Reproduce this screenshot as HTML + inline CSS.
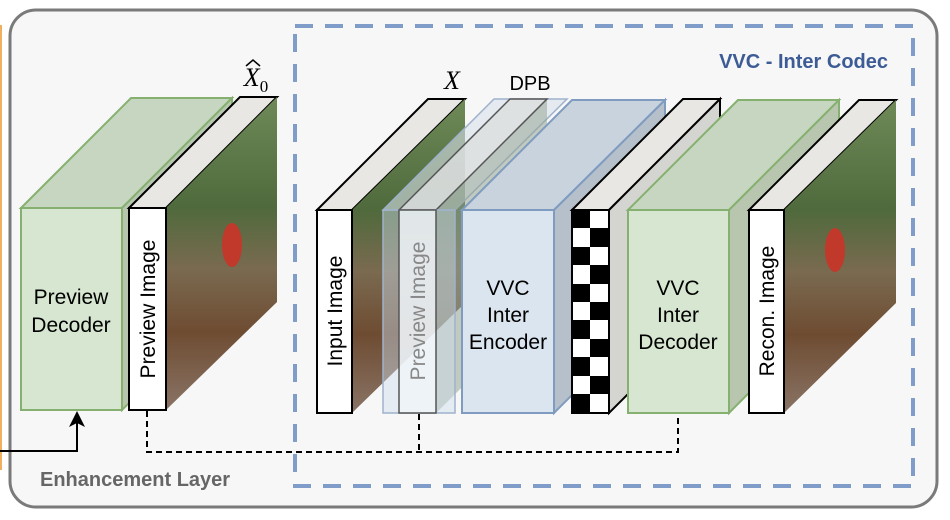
<!DOCTYPE html>
<html><head><meta charset="utf-8"><style>
html,body{margin:0;padding:0;background:#fff;}
svg{display:block;font-family:"Liberation Sans",sans-serif;}
</style></head><body>
<svg width="950" height="520" viewBox="0 0 950 520" xmlns="http://www.w3.org/2000/svg">
<defs>
<linearGradient id="ph" x1="0" y1="0" x2="0" y2="1">
<stop offset="0" stop-color="#6f8a58"/><stop offset="0.35" stop-color="#4f6a3c"/>
<stop offset="0.55" stop-color="#7a6a50"/><stop offset="0.75" stop-color="#6e4c32"/>
<stop offset="1" stop-color="#8a7466"/></linearGradient>
</defs>
<line x1="1" y1="25" x2="1" y2="470" stroke="#f0b060" stroke-width="2"/>
<rect x="10" y="10" width="927" height="497" rx="26" fill="#f7f7f7" stroke="#7a7a7a" stroke-width="3"/>
<rect x="295" y="26" width="618" height="460" fill="none" stroke="#7f9dc8" stroke-width="4" stroke-dasharray="18,12"/>
<text x="888" y="68" text-anchor="end" font-size="20" font-weight="bold" fill="#3d5c96">VVC - Inter Codec</text>
<text x="40" y="486" font-size="20" font-weight="bold" fill="#666">Enhancement Layer</text>

<!-- Preview decoder -->
<polygon points="21,208 131,98 232,98 122,208" fill="#c6d6c0" stroke="#86b070" stroke-width="2"/>
<polygon points="122,208 232,98 232,300 122,410" fill="#b8c6b0" stroke="#86b070" stroke-width="2"/>
<rect x="21" y="208" width="101" height="202" fill="#d6e6d0" stroke="#86b070" stroke-width="2"/>
<text x="71" y="304" text-anchor="middle" font-size="21">Preview</text>
<text x="71" y="332" text-anchor="middle" font-size="21">Decoder</text>

<!-- Preview image slab -->
<polygon points="129,208 240,97 277,97 166,208" fill="#e8e7e4" stroke="#000" stroke-width="2"/>
<polygon points="166,208 277,97 277,302 166,410" fill="url(#ph)"/>
<ellipse cx="232" cy="245" rx="10" ry="22" fill="#c0392b"/>
<rect x="129" y="208" width="37" height="202" fill="#fff" stroke="#000" stroke-width="2"/>
<text transform="translate(155,309) rotate(-90)" text-anchor="middle" font-size="21">Preview Image</text>
<text x="256" y="86" text-anchor="middle" font-size="26" font-style="italic" font-family="Liberation Serif,serif">X<tspan font-size="17" font-style="normal" dy="6">0</tspan></text>
<path d="M246,66 L253,60 L260,66" fill="none" stroke="#000" stroke-width="1.5"/>

<!-- Input image -->
<polygon points="317,210 428,99 465,99 352,210" fill="#e8e7e4" stroke="#000" stroke-width="2"/>
<polygon points="352,210 465,99 465,303 352,413" fill="url(#ph)"/>
<rect x="317" y="210" width="35" height="203" fill="#fff" stroke="#000" stroke-width="2"/>
<text transform="translate(342,311) rotate(-90)" text-anchor="middle" font-size="21">Input Image</text>
<text x="452" y="89" text-anchor="middle" font-size="26" font-style="italic" font-family="Liberation Serif,serif">X</text>
<text x="530" y="90" text-anchor="middle" font-size="20">DPB</text>

<!-- DPB translucent -->
<polygon points="383,210 494,99 567,99 455,210" fill="rgba(215,225,235,0.6)" stroke="#9fb2cc" stroke-width="1.5"/>
<polygon points="436,210 547,99 547,303 436,413" fill="rgba(150,165,150,0.55)"/>
<polygon points="399,210 510,99 547,99 436,210" fill="rgba(220,222,222,0.8)" stroke="#555" stroke-width="1.5"/>
<rect x="383" y="210" width="72" height="203" fill="rgba(205,220,235,0.45)" stroke="#9fb2cc" stroke-width="1.5"/>
<rect x="399" y="210" width="37" height="203" fill="rgba(240,244,248,0.85)" stroke="#555" stroke-width="1.5"/>
<text transform="translate(425,311) rotate(-90)" text-anchor="middle" font-size="21" fill="#888">Preview Image</text>

<!-- Encoder -->
<polygon points="462,210 572,100 665,100 554,210" fill="#c9d3de" stroke="#7f9cc0" stroke-width="2"/>
<polygon points="554,210 665,100 665,302 554,413" fill="#b6c0ca" stroke="#7f9cc0" stroke-width="2"/>
<rect x="462" y="210" width="92" height="203" fill="#dbe5ef" stroke="#7f9cc0" stroke-width="2"/>
<text x="508" y="295" text-anchor="middle" font-size="21">VVC</text>
<text x="508" y="322" text-anchor="middle" font-size="21">Inter</text>
<text x="508" y="349" text-anchor="middle" font-size="21">Encoder</text>

<!-- Checker -->
<polygon points="572,210 683,99 720,99 609,210" fill="#e8e7e4" stroke="#000" stroke-width="2"/>
<polygon points="609,210 720,99 720,302 609,413" fill="#d4d4d0" stroke="#000" stroke-width="2"/>
<rect x="572" y="210" width="37" height="203" fill="#fff"/>
<g fill="#000">
<rect x="572" y="210" width="18" height="18"/><rect x="590" y="228" width="19" height="19"/>
<rect x="572" y="247" width="18" height="18"/><rect x="590" y="265" width="19" height="19"/>
<rect x="572" y="284" width="18" height="18"/><rect x="590" y="302" width="19" height="18"/>
<rect x="572" y="320" width="18" height="19"/><rect x="590" y="339" width="19" height="18"/>
<rect x="572" y="357" width="18" height="19"/><rect x="590" y="376" width="19" height="18"/>
<rect x="572" y="394" width="18" height="19"/>
</g>
<rect x="572" y="210" width="37" height="203" fill="none" stroke="#000" stroke-width="2"/>

<!-- Decoder -->
<polygon points="628,210 738,100 839,100 729,210" fill="#c6d6c0" stroke="#86b070" stroke-width="2"/>
<polygon points="729,210 839,100 839,302 729,413" fill="#b8c6b0" stroke="#86b070" stroke-width="2"/>
<rect x="628" y="210" width="101" height="203" fill="#d6e6d0" stroke="#86b070" stroke-width="2"/>
<text x="678" y="295" text-anchor="middle" font-size="21">VVC</text>
<text x="678" y="322" text-anchor="middle" font-size="21">Inter</text>
<text x="678" y="349" text-anchor="middle" font-size="21">Decoder</text>

<!-- Recon -->
<polygon points="749,210 859,100 896,100 784,210" fill="#e8e7e4" stroke="#000" stroke-width="2"/>
<polygon points="784,210 896,100 896,303 784,413" fill="url(#ph)"/>
<ellipse cx="835" cy="250" rx="10" ry="22" fill="#c0392b"/>
<rect x="749" y="210" width="35" height="203" fill="#fff" stroke="#000" stroke-width="2"/>
<text transform="translate(774,311) rotate(-90)" text-anchor="middle" font-size="21">Recon. Image</text>

<!-- connectors -->
<path d="M147,411 V452 H678 V414" fill="none" stroke="#000" stroke-width="2" stroke-dasharray="6,4"/>
<path d="M419,414 V452" fill="none" stroke="#000" stroke-width="2" stroke-dasharray="6,4"/>
<path d="M0,451 H77 V420" fill="none" stroke="#000" stroke-width="2"/>
<polygon points="77,411 69,427 77,423 85,427" fill="#000"/>
</svg>
</body></html>
